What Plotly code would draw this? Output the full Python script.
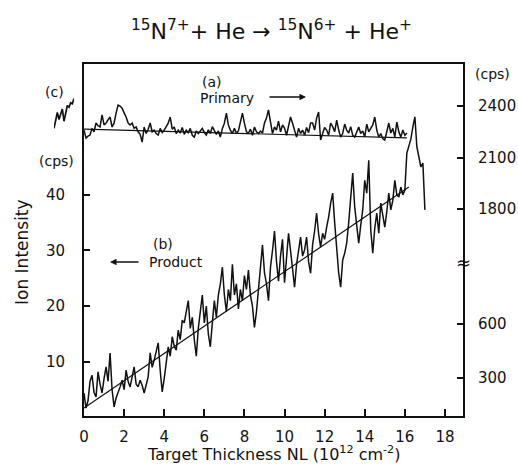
import plotly.graph_objects as go

# ---------------- data ----------------
# (b) Product trace: x in 1e12 cm^-2, y in cps (left axis)
product_x = [round(i * 0.1, 1) for i in range(171)]
product_y = [
    4.4, 1.7, 3.0, 6.5, 7.6, 4.5, 3.7, 8.2, 6.0, 4.4,
    7.0, 9.1, 6.5, 11.6, 5.0, 1.9, 3.5, 4.4, 5.5, 6.7,
    5.0, 8.5, 6.5, 5.5, 7.5, 9.1, 6.0, 5.5, 6.7, 5.8,
    4.4, 6.0, 7.3, 11.6, 9.0, 10.3, 12.0, 13.4, 8.5, 4.6,
    7.0, 9.8, 12.7, 11.0, 14.5, 12.8, 12.1, 15.7, 14.0, 17.5,
    17.0, 19.0, 21.0, 16.0, 18.0, 14.0, 11.0, 16.0, 19.0, 22.0,
    17.0, 20.0, 15.0, 12.7, 17.0, 21.0, 18.0, 22.0, 24.0, 27.0,
    22.0, 19.0, 23.0, 21.0, 27.5, 22.0, 24.0, 19.5, 23.0, 21.0,
    25.5, 23.0, 26.5, 22.0, 20.0, 16.2, 19.0, 23.5, 27.0, 31.0,
    26.0, 24.0, 21.0, 27.0, 30.0, 33.5, 28.0, 24.5, 29.0, 32.0,
    24.2, 28.0, 33.1, 30.0, 27.0, 23.4, 27.5, 30.0, 32.4, 29.0,
    30.1, 32.4, 28.0, 25.9, 31.0, 33.5, 36.7, 33.0, 30.6, 33.1,
    32.0, 34.2, 36.0, 38.5, 40.3, 35.0, 30.1, 26.0, 23.4, 28.3,
    29.5, 31.3, 35.0, 39.0, 43.9, 37.8, 34.0, 31.3, 34.5, 37.3,
    42.6, 40.3, 46.2, 33.7, 29.5, 34.0, 36.7, 33.1, 38.5, 36.0,
    34.2, 37.0, 40.3, 37.3, 39.0, 42.6, 40.0, 39.6, 41.4, 40.0,
    40.8, 47.5, 48.6, 50.0, 52.2, 54.0, 48.6, 47.0, 45.0, 45.7, 37.3,
]
product_fit_x = [0.0, 16.2]
product_fit_y = [1.7, 41.4]

# (a) Primary trace: cps (right axis, upper scale)
primary_x = [round(i * 0.1, 1) for i in range(162)]
primary_y = [
    2260, 2214, 2225, 2231, 2270, 2250, 2301, 2285, 2278, 2348,
    2290, 2301, 2320, 2336, 2278, 2300, 2359, 2406, 2400, 2388,
    2360, 2336, 2301, 2290, 2301, 2270, 2278, 2250, 2235, 2190,
    2278, 2240, 2265, 2301, 2250, 2260, 2240, 2231, 2270, 2245,
    2260, 2285, 2300, 2336, 2265, 2278, 2240, 2260, 2243, 2275,
    2235, 2260, 2245, 2270, 2230, 2219, 2255, 2240, 2254, 2270,
    2245, 2231, 2262, 2240, 2280, 2260, 2235, 2255, 2219, 2270,
    2300, 2359, 2290, 2260, 2240, 2270, 2243, 2255, 2300, 2359,
    2300, 2250, 2243, 2265, 2230, 2278, 2250, 2240, 2254, 2243,
    2301, 2330, 2377, 2300, 2240, 2278, 2260, 2312, 2250, 2290,
    2272, 2230, 2280, 2336, 2300, 2250, 2219, 2270, 2240, 2260,
    2230, 2275, 2245, 2301, 2301, 2260, 2330, 2365, 2202, 2240,
    2275, 2260, 2230, 2301, 2280, 2250, 2318, 2260, 2219, 2240,
    2295, 2260, 2243, 2280, 2230, 2219, 2250, 2278, 2240, 2255,
    2220, 2295, 2250, 2272, 2290, 2336, 2260, 2219, 2240, 2210,
    2202, 2250, 2301, 2243, 2270, 2220, 2307, 2250, 2219, 2260,
    2230, 2243,
]
primary_fit_x = [0.0, 16.1]
primary_fit_y = [2265, 2215]

# (c) small monitor trace (arbitrary units)
c_x = [0, 1, 2, 3, 4, 5, 6, 7, 8, 9, 10, 11, 12]
c_y = [0.5, 2.5, 5.0, 3.0, 4.3, 6.0, 2.5, 5.0, 7.0, 6.5, 7.8, 7.5, 9.0]

x_ticks = [0, 2, 4, 6, 8, 10, 12, 14, 16, 18]
left_ticks = [10, 20, 30, 40]
right_tick_text = ["300", "600", "1800", "2100", "2400"]
right_tick_vals = [816, 1130, 1800, 2100, 2400]  # lower pair sits on the broken scale

# ---------------- figure ----------------
FONT = "DejaVu Sans"
BLACK = "#111111"
L, R, T, B = 40, 55, 64, 52
W, H = 518, 468
PW, PH = W - L - R, H - T - B


def px(x):
    return (x - L) / PW


def py(y):
    return (H - B - y) / PH


fig = go.Figure()
line = dict(color=BLACK, width=1.5)
fig.add_trace(go.Scatter(x=product_x, y=product_y, mode="lines", line=line,
                         xaxis="x", yaxis="y", showlegend=False))
fig.add_trace(go.Scatter(x=product_fit_x, y=product_fit_y, mode="lines",
                         line=dict(color=BLACK, width=1.2),
                         xaxis="x", yaxis="y", showlegend=False))
fig.add_trace(go.Scatter(x=primary_x, y=primary_y, mode="lines", line=line,
                         xaxis="x", yaxis="y2", showlegend=False))
fig.add_trace(go.Scatter(x=primary_fit_x, y=primary_fit_y, mode="lines",
                         line=dict(color=BLACK, width=1.2),
                         xaxis="x", yaxis="y2", showlegend=False))
fig.add_trace(go.Scatter(x=c_x, y=c_y, mode="lines", line=dict(color=BLACK, width=1.7),
                         xaxis="x3", yaxis="y3", showlegend=False))

tickfont = dict(family=FONT, size=15, color=BLACK)
fig.update_layout(
    template="none",
    width=W, height=H, autosize=False,
    margin=dict(l=L, r=R, t=T, b=B, pad=0),
    paper_bgcolor="white", plot_bgcolor="white",
    font=dict(family=FONT, color=BLACK),
    showlegend=False,
    xaxis=dict(domain=[px(84), 1.0], range=[0, 18.9], tickvals=x_ticks,
               ticks="inside", ticklen=7, tickwidth=1.5, tickcolor=BLACK,
               showline=True, linewidth=2, linecolor=BLACK, mirror=True,
               showgrid=False, zeroline=False, tickfont=tickfont,
               ticklabelstandoff=6, automargin=False),
    yaxis=dict(range=[0.27, 63.5], tickvals=left_ticks, anchor="x",
               ticks="inside", ticklen=6, tickwidth=1.5, tickcolor=BLACK,
               showline=True, linewidth=2, linecolor=BLACK,
               showgrid=False, zeroline=False, tickfont=tickfont,
               ticklabelstandoff=14, automargin=False),
    yaxis2=dict(range=[594, 2645], overlaying="y", side="right", anchor="x",
                tickvals=right_tick_vals, ticktext=right_tick_text,
                ticks="inside", ticklen=6, tickwidth=1.5, tickcolor=BLACK,
                showline=True, linewidth=2, linecolor=BLACK,
                showgrid=False, zeroline=False, tickfont=tickfont,
                ticklabelstandoff=10, automargin=False),
    xaxis3=dict(domain=[px(54), px(74)], range=[0, 12], anchor="y3", visible=False),
    yaxis3=dict(domain=[py(130), py(95)], range=[0, 10], anchor="x3", visible=False),
)


def label(text, x, y, size=14, **kw):
    fig.add_annotation(text=text, x=px(x), y=py(y), xref="paper", yref="paper",
                       xanchor="center", yanchor="middle",
                       showarrow=False, font=dict(family=FONT, size=size, color=BLACK), **kw)


label("<sup>15</sup>N<sup>7+</sup>+ He \u2192 <sup>15</sup>N<sup>6+</sup> + He<sup>+</sup>",
      271, 30, size=22)
label("Target Thickness NL (10<sup>12</sup> cm<sup>-2</sup>)", 273, 453, size=16)
label("Ion Intensity", 22, 252, size=17, textangle=-90)
label("(cps)", 56, 161)
label("(cps)", 492, 74)
label("(c)", 54, 92)
label("(a)", 212, 82)
label("Primary", 227, 98)
label("(b)", 163, 244)
label("Product", 176, 262)
label("\u2248", 463, 262, size=18)

# arrows
fig.add_annotation(x=px(306), y=py(97), xref="paper", yref="paper",
                   ax=-38, ay=0, text="", showarrow=True,
                   arrowhead=2, arrowsize=1, arrowwidth=1.3, arrowcolor=BLACK)
fig.add_annotation(x=px(110), y=py(262), xref="paper", yref="paper",
                   ax=30, ay=0, text="", showarrow=True,
                   arrowhead=2, arrowsize=1, arrowwidth=1.3, arrowcolor=BLACK)

fig.write_html("out.html", config={"displayModeBar": False},
               post_script="document.body.style.margin='0';")
